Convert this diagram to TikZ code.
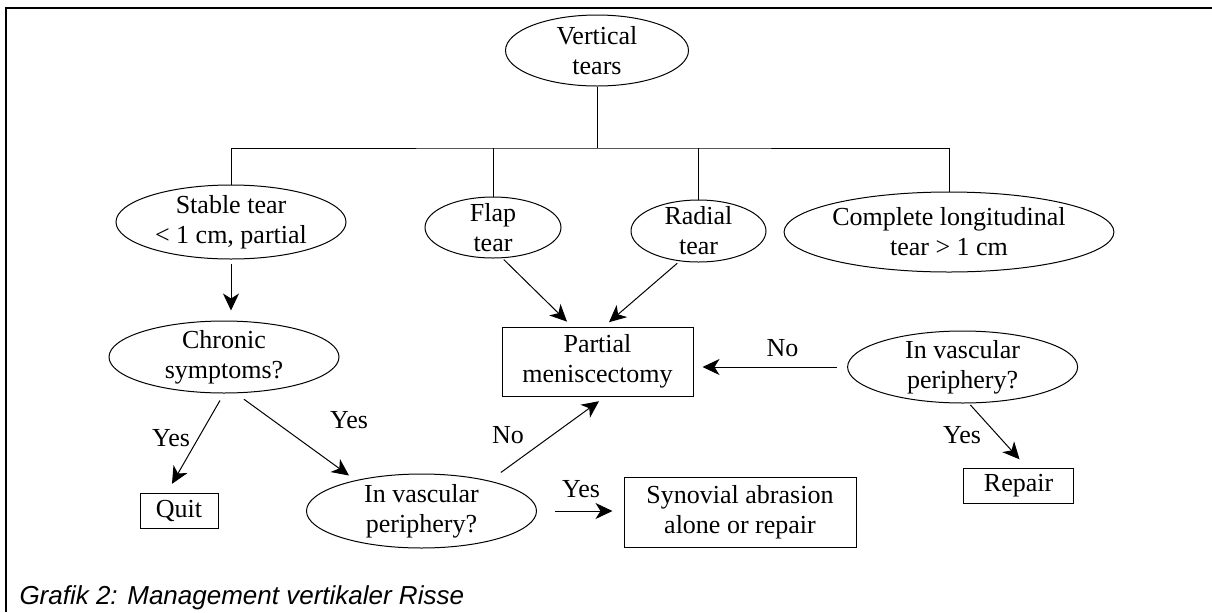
\documentclass[tikz,border=0pt]{standalone}
\usepackage{fontspec}
\setmainfont{Liberation Serif}
\newfontfamily\capfont{Liberation Sans}
\usetikzlibrary{shapes.geometric, arrows.meta}

\tikzset{
  oval/.style = {ellipse, draw, inner xsep=0pt, inner ysep=-1pt, align=center},
  box/.style = {rectangle, draw, inner sep=0pt, align=center},
  arr/.style = {-{Stealth[length=8.5pt, width=8pt, inset=2.5pt]}},
}

\begin{document}
\begin{tikzpicture}[x=0.5pt, y=-0.5pt, line width=0.5pt,
    font=\fontsize{13}{15}\selectfont]

    \useasboundingbox (0,0) rectangle (1212,612);
    \draw[line width=0.8pt] (1212,8) -- (6,8) -- (6,612);

    \coordinate (fork) at (597,148);

    \node[oval, minimum width=91.5pt, minimum height=35.5pt] (vt) at (597,50.5) {Vertical\\tears};

    \node[oval, minimum width=115pt, minimum height=37pt] (stable) at (231,222) {Stable tear\\< 1 cm, partial};
    \node[oval, inner ysep=-3pt, minimum width=68pt, minimum height=30.5pt] (flap) at (493,227.5) {Flap\\tear};
    \node[oval, inner ysep=-3pt, minimum width=67.5pt, minimum height=31pt] (radial) at (698.5,231) {Radial\\tear};
    \node[oval, minimum width=162.5pt, minimum height=40pt] (complete) at (949,232) {Complete longitudinal\\tear > 1 cm};

    \node[oval, minimum width=115pt, minimum height=36pt] (chronic) at (224,357) {Chronic\\symptoms?};
    \node[box, minimum width=95.5pt, minimum height=34.5pt] (partial) at (597.5,361.5) {Partial\\meniscectomy};
    \node[oval, minimum width=115pt, minimum height=36pt] (invascr) at (962.6,367) {In vascular\\periphery?};

    \node[box, minimum width=39pt, minimum height=17.5pt] (quit) at (179,510.5) {Quit};
    \node[oval, minimum width=115pt, minimum height=37pt] (invascl) at (421.5,511) {In vascular\\periphery?};
    \node[box, minimum width=116pt, minimum height=35pt] (synovial) at (740,512) {Synovial abrasion\\alone or repair};
    \node[box, minimum width=55pt, minimum height=17.25pt] (repair) at (1018.6,486) {Repair};

    \draw (vt.south) -- (fork);
    \draw (stable.north) |- (fork) -| (complete.north);
    \draw (flap.north) -- (flap.north |- fork);
    \draw (radial.north) -- (radial.north |- fork);

    \draw[arr, shorten <=2pt, shorten >=5pt] (stable.south) -- (stable.south |- chronic.north);
    \draw[arr, shorten <=4pt, shorten >=5pt] (chronic.south) -- ([xshift=-6pt]quit.north);
    \draw[arr, shorten <=5pt, shorten >=4pt] (chronic.-72) -- (invascl.155);
    \draw[arr, shorten <=7pt, shorten >=4pt] (invascl.24) -- ([xshift=4pt]partial.south);
    \draw[arr, shorten <=9pt, shorten >=5.5pt] (invascl.east) -- (invascl.east -| synovial.west);

    \draw[arr, shorten <=1pt, shorten >=3.5pt] (flap.-73) -- ([xshift=-12.75pt]partial.north);
    \draw[arr, shorten <=1.5pt, shorten >=3.3pt] (radial.-122) -- ([xshift=3.25pt]partial.north);
    \draw[arr, shorten <=5.3pt, shorten >=4.5pt] (invascr.west) -- (invascr.west -| partial.east);
    \draw[arr, shorten <=1pt, shorten >=6pt] (invascr.-80) -- ([xshift=4.5pt]repair.north);

    \node[anchor=base] (yesquit) at (171,446) {Yes};
    \node[anchor=base] (yesvasc) at (349,428) {Yes};
    \node[anchor=base] (nopartial) at (508,443) {No};
    \node[anchor=base] (yessyn) at (581,497) {Yes};
    \node[anchor=base] (noright) at (782.5,356) {No};
    \node[anchor=base] (yesrepair) at (962,443) {Yes};

    \node[anchor=base west, inner sep=0pt] (caption) at (19,604)
      {\capfont\itshape\fontsize{13}{15}\selectfont Grafik 2: Management vertikaler Risse};

  \end{tikzpicture}
\end{document}
